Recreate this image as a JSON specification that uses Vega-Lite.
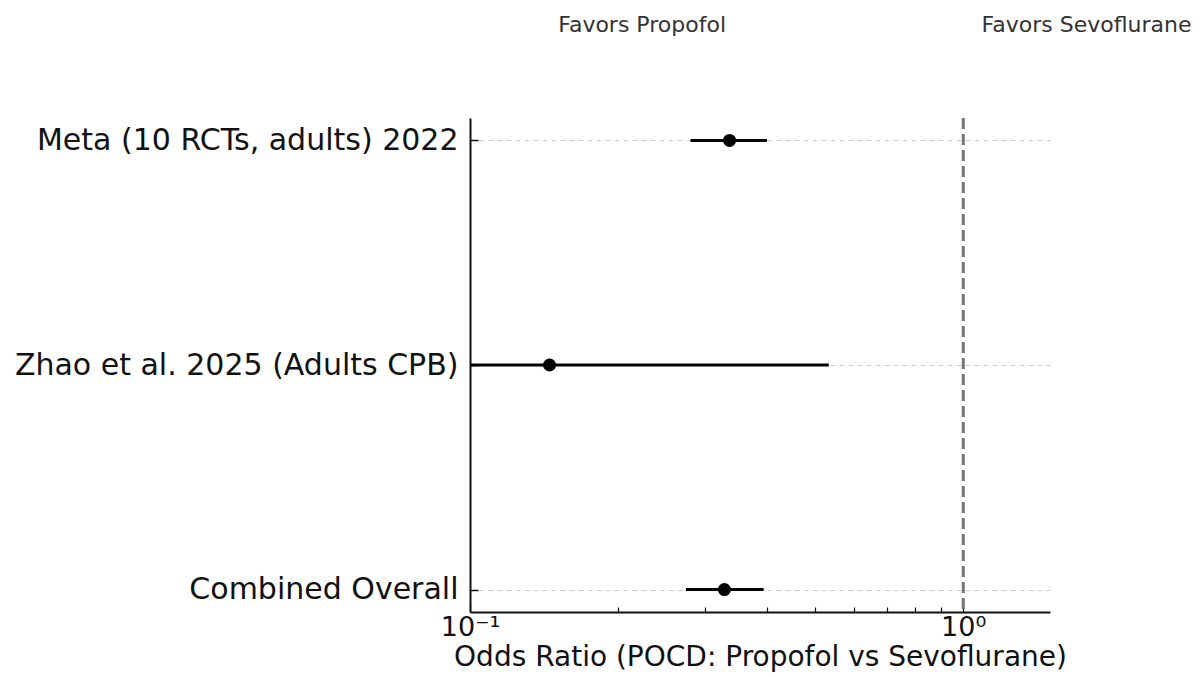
{
  "$schema": "https://vega.github.io/schema/vega-lite/v6.json",
  "width": 580,
  "height": 494,
  "autosize": {"type": "none"},
  "padding": {"left": 470, "top": 118, "right": 150, "bottom": 65},
  "background": "white",
  "config": {
    "font": "DejaVu Sans",
    "view": {"stroke": null}
  },
  "datasets": {
    "studies": [
      {"study": "Meta (10 RCTs, adults) 2022", "or": 0.336, "lo": 0.28, "hi": 0.40},
      {"study": "Zhao et al. 2025 (Adults CPB)", "or": 0.145, "lo": 0.04, "hi": 0.534},
      {"study": "Combined Overall", "or": 0.328, "lo": 0.274, "hi": 0.394}
    ],
    "notes": [
      {"label": "Favors Propofol", "x": 0.151, "ty": 1.188},
      {"label": "Favors Sevoflurane", "x": 1.09, "ty": 1.188}
    ]
  },
  "layer": [
    {
      "layer": [
        {
          "data": {"name": "studies"},
          "mark": {"type": "rule", "color": "#777777", "strokeWidth": 2.5, "strokeDash": [11, 5]},
          "encoding": {
            "x": {"datum": 1, "type": "quantitative"}
          }
        },
        {
          "data": {"name": "studies"},
          "mark": {"type": "rule", "color": "black", "strokeWidth": 3, "clip": true},
          "encoding": {
            "y": {
              "field": "study", "type": "nominal", "sort": null,
              "scale": {"type": "point", "padding": 0.1},
              "axis": {
                "title": null,
                "labelFontSize": 30,
                "labelLimit": 0,
                "labelColor": "#111111",
                "labelPadding": 20,
                "domainColor": "#111111",
                "domainWidth": 2,
                "tickColor": "#111111",
                "tickWidth": 1.5,
                "tickSize": -8,
                "grid": true,
                "gridColor": "#cccccc",
                "gridDash": [5, 4],
                "gridWidth": 1
              }
            },
            "x": {
              "field": "lo", "type": "quantitative",
              "scale": {"type": "log", "domain": [0.1, 1.5], "nice": false},
              "axis": {
                "title": "Odds Ratio (POCD: Propofol vs Sevoflurane)",
                "titleFontSize": 28,
                "titleFontWeight": "normal",
                "titleColor": "#111111",
                "titlePadding": 0,
                "values": [0.1, 0.2, 0.3, 0.4, 0.5, 0.6, 0.7, 0.8, 0.9, 1],
                "labelExpr": "datum.value == 0.1 ? '10⁻¹' : (datum.value == 1 ? '10⁰' : '')",
                "labelFontSize": 27,
                "labelColor": "#111111",
                "labelPadding": 10,
                "labelFlush": false,
                "labelOverlap": false,
                "domainColor": "#111111",
                "domainWidth": 2,
                "tickColor": "#111111",
                "tickWidth": 1.2,
                "tickSize": {"condition": {"test": "datum.value == 0.1 || datum.value == 1", "value": -8}, "value": -5},
                "grid": false
              }
            },
            "x2": {"field": "hi"}
          }
        },
        {
          "data": {"name": "studies"},
          "mark": {"type": "point", "filled": true, "color": "black", "opacity": 1, "size": 170},
          "encoding": {
            "y": {"field": "study", "type": "nominal", "sort": null},
            "x": {"field": "or", "type": "quantitative"}
          }
        }
      ]
    },
    {
      "data": {"name": "notes"},
      "mark": {"type": "text", "align": "left", "baseline": "middle", "fontSize": 22, "color": "#333333", "clip": false},
      "encoding": {
        "x": {"field": "x", "type": "quantitative"},
        "y": {"field": "ty", "type": "quantitative", "scale": {"domain": [0, 1]}, "axis": null},
        "text": {"field": "label"}
      }
    }
  ],
  "resolve": {"scale": {"y": "independent"}}
}
